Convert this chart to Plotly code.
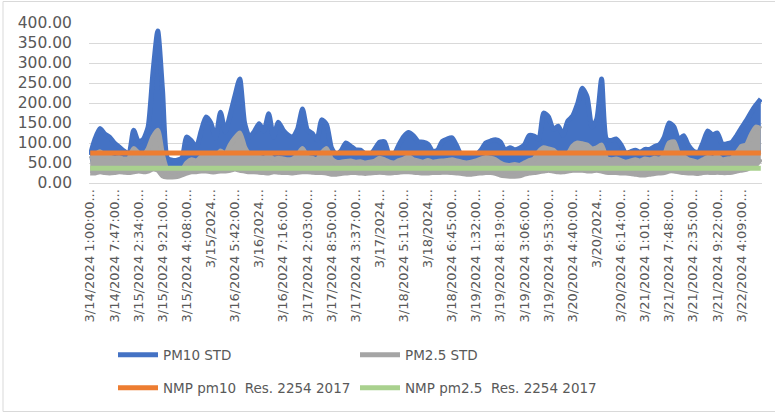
import plotly.graph_objects as go

# ---------------- data ----------------
tick_labels = [
    "3/14/2024 1:00:00...", "3/14/2024 7:47:00...", "3/15/2024 2:34:00...",
    "3/15/2024 9:21:00...", "3/15/2024 4:08:00...", "3/15/2024...",
    "3/16/2024 5:42:00...", "3/16/2024...", "3/16/2024 7:16:00...",
    "3/17/2024 2:03:00...", "3/17/2024 8:50:00...", "3/17/2024 3:37:00...",
    "3/17/2024...", "3/18/2024 5:11:00...", "3/18/2024...",
    "3/18/2024 6:45:00...", "3/19/2024 1:32:00...", "3/19/2024 8:19:00...",
    "3/19/2024 3:06:00...", "3/19/2024 9:53:00...", "3/20/2024 4:40:00...",
    "3/20/2024...", "3/20/2024 6:14:00...", "3/21/2024 1:01:00...",
    "3/21/2024 7:48:00...", "3/21/2024 2:35:00...", "3/21/2024 9:22:00...",
    "3/22/2024 4:09:00...",
]
tick_every = 10     # readings between two labelled categories
sample_step = 2     # readings between two envelope samples

# PM10: upper and lower edge of the (dense) reading band
pm10_highs = [
    70, 110, 136, 123, 115, 100, 90, 80, 72, 132,
    103, 109, 140, 275, 380, 230, 62, 57, 57, 62,
    115, 105, 90, 130, 165, 150, 112, 177, 128, 170,
    218, 260, 150, 115, 128, 148, 130, 173, 115, 152,
    132, 120, 115, 135, 185, 133, 124, 108, 158, 146,
    88, 70, 80, 100, 92, 83, 82, 73, 70, 85,
    102, 103, 70, 72, 96, 116, 126, 118, 103, 102,
    97, 79, 82, 104, 110, 113, 92, 68, 66, 66,
    70, 82, 100, 105, 108, 103, 82, 88, 83, 87,
    95, 119, 117, 110, 175, 165, 134, 142, 120, 155,
    167, 197, 237, 215, 140, 160, 260, 110, 106, 110,
    96, 74, 78, 82, 77, 84, 84, 91, 96, 115,
    150, 140, 108, 118, 94, 80, 76, 100, 130, 120,
    125, 97, 98, 102, 118, 138, 156, 177, 195, 210,
]
pm10_lows = [
    55, 58, 60, 58, 55, 55, 52, 55, 58, 60,
    60, 58, 62, 65, 62, 45, 42, 40, 42, 48,
    55, 55, 55, 60, 62, 60, 58, 60, 62, 65,
    68, 62, 58, 55, 55, 55, 55, 52, 55, 55,
    55, 55, 58, 60, 60, 55, 55, 55, 58, 52,
    48, 50, 50, 52, 52, 50, 50, 50, 52, 55,
    55, 52, 50, 52, 55, 58, 58, 55, 55, 55,
    52, 52, 55, 55, 55, 55, 52, 50, 50, 50,
    52, 55, 58, 58, 52, 48, 45, 45, 45, 48,
    52, 55, 55, 60, 65, 65, 62, 60, 60, 65,
    70, 72, 72, 68, 65, 68, 58, 55, 55, 55,
    52, 52, 55, 55, 55, 55, 55, 55, 58, 62,
    65, 60, 58, 55, 52, 50, 50, 55, 58, 58,
    58, 55, 55, 58, 62, 65, 70, 75, 78, 80,
]
# PM2.5: upper and lower edge of the reading band
pm25_highs = [
    60, 70, 78, 68, 65, 62, 63, 60, 62, 86,
    75, 70, 85, 115, 132, 70, 32, 28, 30, 32,
    50, 58, 55, 65, 72, 68, 62, 80, 72, 95,
    112, 125, 90, 72, 70, 65, 62, 68, 60, 62,
    60, 58, 60, 70, 86, 65, 62, 58, 75, 86,
    60, 52, 52, 54, 55, 52, 53, 50, 52, 55,
    62, 58, 52, 50, 56, 60, 66, 58, 55, 52,
    56, 52, 54, 55, 56, 58, 55, 52, 50, 52,
    55, 60, 64, 62, 58, 50, 45, 44, 46, 44,
    50, 56, 60, 78, 88, 85, 82, 70, 65, 72,
    92, 100, 98, 95, 85, 88, 95, 62, 58, 60,
    56, 52, 55, 58, 55, 60, 58, 62, 60, 70,
    100, 103, 72, 66, 58, 55, 52, 58, 64, 62,
    66, 58, 60, 62, 75, 92, 95, 120, 140, 135,
]
pm25_lows = [
    25, 25, 28, 26, 25, 26, 28, 27, 26, 28,
    30, 28, 30, 35, 32, 18, 15, 15, 16, 20,
    25, 28, 28, 30, 30, 28, 28, 30, 30, 32,
    35, 32, 30, 28, 28, 27, 26, 25, 28, 27,
    26, 26, 25, 27, 28, 28, 27, 26, 26, 25,
    22, 22, 24, 25, 26, 26, 25, 24, 25, 26,
    27, 26, 25, 26, 27, 28, 28, 27, 26, 25,
    25, 26, 26, 27, 27, 26, 25, 24, 22, 22,
    24, 25, 26, 26, 24, 20, 18, 17, 17, 18,
    22, 25, 26, 28, 30, 32, 30, 28, 28, 30,
    32, 32, 32, 30, 30, 32, 30, 27, 26, 26,
    25, 25, 24, 22, 20, 20, 22, 24, 25, 26,
    30, 30, 28, 26, 25, 25, 24, 26, 27, 26,
    27, 26, 26, 27, 30, 32, 34, 40, 45, 60,
]
nmp_pm10 = 75
nmp_pm25 = 37

# ---------------- figure ----------------
n_samples = len(pm10_highs)
x = [k * sample_step for k in range(n_samples)]
x_last = x[-1]
tickvals = [i * tick_every for i in range(len(tick_labels))]

BLUE = "#4472C4"
GRAY = "#A5A5A5"
ORANGE = "#ED7D31"
GREEN = "#A9D18E"
SHADOW = "rgba(0,0,0,0.30)"
TXT = "#595959"
GRID = "#D9D9D9"
FONT = "DejaVu Sans"
LW = 5
SPL = dict(shape="spline", smoothing=0.6)

fig = go.Figure()
# PM10 band
fig.add_trace(go.Scatter(x=x, y=pm10_lows, mode="lines", name="PM10 STD",
                         line=dict(color=BLUE, width=LW, **SPL),
                         legend="legend", xaxis="x", yaxis="y"))
fig.add_trace(go.Scatter(x=x, y=pm10_highs, mode="lines", showlegend=False,
                         fill="tonexty", fillcolor=BLUE,
                         line=dict(color=BLUE, width=LW, **SPL),
                         xaxis="x", yaxis="y"))
# soft drop shadow of the PM2.5 band (same data on a slightly offset axis)
fig.add_trace(go.Scatter(x=x, y=pm25_lows, mode="none", showlegend=False,
                         line=dict(**SPL), xaxis="x", yaxis="y2",
                         hoverinfo="skip"))
fig.add_trace(go.Scatter(x=x, y=pm25_highs, mode="none", showlegend=False,
                         fill="tonexty", fillcolor=SHADOW,
                         line=dict(**SPL), xaxis="x", yaxis="y2",
                         hoverinfo="skip"))
# PM2.5 band
fig.add_trace(go.Scatter(x=x, y=pm25_lows, mode="lines", name="PM2.5 STD",
                         line=dict(color=GRAY, width=LW, **SPL),
                         legend="legend", xaxis="x", yaxis="y3"))
fig.add_trace(go.Scatter(x=x, y=pm25_highs, mode="lines", showlegend=False,
                         fill="tonexty", fillcolor=GRAY,
                         line=dict(color=GRAY, width=LW, **SPL),
                         xaxis="x", yaxis="y3"))
# limits
fig.add_trace(go.Scatter(x=[0, x_last], y=[nmp_pm10, nmp_pm10], mode="lines",
                         name="NMP pm10  Res. 2254 2017",
                         line=dict(color=ORANGE, width=LW), legend="legend2",
                         xaxis="x", yaxis="y3"))
fig.add_trace(go.Scatter(x=[0, x_last], y=[nmp_pm25, nmp_pm25], mode="lines",
                         name="NMP pm2.5  Res. 2254 2017",
                         line=dict(color=GREEN, width=LW), legend="legend2",
                         xaxis="x", yaxis="y3"))

top, bottom = 23, 230
ph = 413 - top - bottom
pl, pr = 89, 13
pw = 775 - pl - pr


def py(px):
    return (413 - bottom - px) / ph


def pxx(px):
    return (px - pl) / pw


legend_common = dict(orientation="h", xanchor="left", yanchor="middle",
                     entrywidth=187, entrywidthmode="pixels", traceorder="normal",
                     itemwidth=40,
                     font=dict(family=FONT, size=13.5, color=TXT),
                     bgcolor="rgba(0,0,0,0)")

fig.update_layout(
    width=775, height=413,
    margin=dict(l=pl, r=pr, t=top, b=bottom, autoexpand=False),
    paper_bgcolor="white", plot_bgcolor="white",
    font=dict(family=FONT, color=TXT),
    xaxis=dict(range=[-0.5, x_last + 0.5], tickmode="array", tickvals=tickvals,
               ticktext=tick_labels, tickangle=-90, showgrid=False,
               showline=True, linecolor=GRID, linewidth=1, ticks="",
               zeroline=False, automargin=False,
               tickfont=dict(family=FONT, size=13, color=TXT)),
    yaxis=dict(range=[0, 400], dtick=50, tickformat=".2f", showgrid=True,
               gridcolor=GRID, gridwidth=1, zeroline=False, showline=False,
               ticks="", ticklabelstandoff=16, automargin=False,
               tickfont=dict(family=FONT, size=15.5, color=TXT)),
    yaxis2=dict(range=[12, 412], overlaying="y", visible=False),
    yaxis3=dict(range=[0, 400], overlaying="y", visible=False),
    legend=dict(x=pxx(113), y=py(355), **legend_common),
    legend2=dict(x=pxx(113), y=py(388), **legend_common),
    shapes=[dict(type="rect", xref="paper", yref="paper",
                 x0=pxx(3), x1=pxx(777), y0=py(411.5), y1=py(1.5),
                 line=dict(color=GRID, width=1), fillcolor="rgba(0,0,0,0)",
                 layer="below")],
    showlegend=True,
)

fig.write_html("out.html",
               config={"displayModeBar": False},
               post_script="document.body.style.margin='0';"
                           "document.body.style.overflow='hidden';")
